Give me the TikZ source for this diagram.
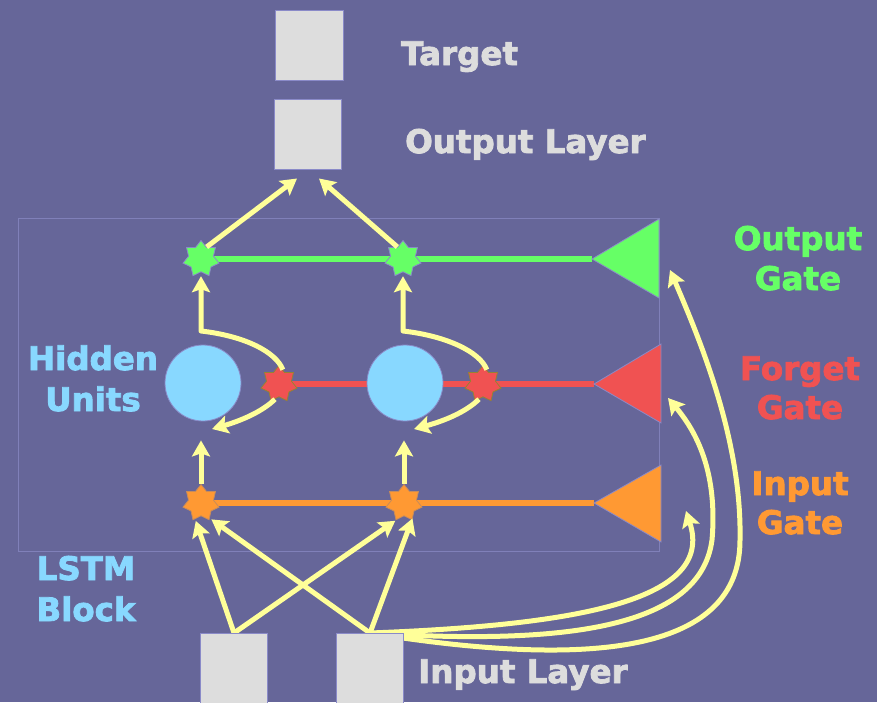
\documentclass[tikz,border=0pt]{standalone}
\usepackage{fontspec}
\newfontfamily\labelfont{DejaVu Sans Bold}[FakeBold=2.5]
\usetikzlibrary{shapes.geometric,arrows.meta,calc}

\definecolor{bg}{RGB}{102,102,153}
\definecolor{boxgray}{RGB}{221,221,221}
\definecolor{edgepurple}{RGB}{138,138,200}
\definecolor{blockedge}{RGB}{128,128,185}
\definecolor{arrowyellow}{RGB}{255,255,153}
\definecolor{gatgreen}{RGB}{102,255,102}
\definecolor{gatred}{RGB}{240,82,82}
\definecolor{gatorange}{RGB}{255,153,51}
\definecolor{cellblue}{RGB}{136,216,255}
\definecolor{redrim}{RGB}{150,130,50}
\definecolor{orangerim}{RGB}{200,140,90}

\pgfdeclarelayer{canvas}
\pgfdeclarelayer{wires}
\pgfsetlayers{canvas,wires,main}

\begin{document}
\begin{tikzpicture}[x=1pt,y=-1pt,
  lbl/.style={font=\fontsize{32.5}{40}\selectfont\labelfont, anchor=base, inner sep=0pt},
  unitbox/.style={draw=edgepurple, line width=1pt, fill=boxgray, minimum width=67pt, minimum height=70pt, inner sep=0pt},
  mult/.style={star, star points=7, star point ratio=1.45, minimum size=37pt, inner sep=0pt, line width=0.8pt},
  cell/.style={circle, fill=cellblue, draw=edgepurple, line width=0.8pt, minimum size=76pt, inner sep=0pt},
  gateline/.style={line width=5.5pt},
  arr/.style={draw=arrowyellow, line width=5pt, line join=round,
    -{Stealth[length=16pt,width=18pt,inset=3pt]}},
]
\useasboundingbox (0,0) rectangle (877,702);
\clip (0,0) rectangle (877,702);
\begin{pgfonlayer}{canvas}
  \fill[bg] (0,0) rectangle (877,702);
  % LSTM block outline
  \draw[blockedge, line width=1pt] (18,218) rectangle (659,551);
\end{pgfonlayer}

% gate tips and arrow targets
\coordinate (gtip) at (592,259);
\coordinate (ftip) at (594,384);
\coordinate (itip) at (594,503);
\coordinate (ogin) at (670,270);
\coordinate (fgin) at (668,398);
\coordinate (igin) at (686,511);

% hidden cells and multiplicative units
\node[cell] (h1) at (203,383) {};
\node[cell] (h2) at (405,383) {};
\node[mult, fill=gatgreen, draw=edgepurple] (gs1) at (201,259) {};
\node[mult, fill=gatgreen, draw=edgepurple] (gs2) at (403,259) {};
\node[mult, fill=gatred, draw=redrim] (fs1) at (279,384) {};
\node[mult, fill=gatred, draw=redrim] (fs2) at (483,384) {};
\node[mult, fill=gatorange, draw=orangerim] (os1) at (201,503) {};
\node[mult, fill=gatorange, draw=orangerim] (os2) at (404,503) {};

% gate lines, behind cells and stars
\begin{pgfonlayer}{wires}
  \draw[gateline, gatgreen] (gs1.center) -- (gtip);
  \draw[gateline, gatred] (fs1.center) -- (ftip);
  \draw[gateline, gatorange] (os1.center) -- (itip);
\end{pgfonlayer}

% gate triangles
\filldraw[fill=gatgreen, draw=edgepurple, line width=0.8pt] (gtip) -- (659,219) -- (659,298) -- cycle;
\filldraw[fill=gatred, draw=edgepurple, line width=0.8pt] (ftip) -- (661,344) -- (661,423) -- cycle;
\filldraw[fill=gatorange, draw=edgepurple, line width=0.8pt] (itip) -- (661,465) -- (661,542) -- cycle;

% output stars to output layer
\node[unitbox, minimum width=68pt] (tgt) at (309,45) {};
\node[unitbox] (outbox) at (307.5,134) {};
\draw[arr] (gs1.65) -- ([shift={(-10.5,9)}]outbox.south);
\draw[arr] (gs2.115) -- ([shift={(11.5,9)}]outbox.south);

% cell state through forget star up to output star
\draw[arr, shorten >=4pt] (fs1.75) .. controls (276,352) and (245,336) .. (201,331) -- (gs1);
\draw[arr, shorten >=4pt] (fs2.75) .. controls (480,352) and (447,336) .. (403,331) -- (gs2);

% recurrent loop back into the cell
\draw[arr] (fs1.255) .. controls (262,412) and (240,421) .. ([shift={(9,46)}]h1.center);
\draw[arr] (fs2.255) .. controls (466,412) and (444,421) .. ([shift={(9,46)}]h2.center);

% input star up into the cell
\draw[arr] (os1.north) -- ([shift={(-2,19)}]h1.south);
\draw[arr] (os2.north) -- ([shift={(-1,19)}]h2.south);

% input layer to input stars
\coordinate (in1top) at (234,633);
\coordinate (in2top) at (370,633);
\draw[arr, shorten >=2pt] (in1top) -- (os1.250);
\draw[arr, shorten >=2pt] (in1top) -- (os2.247);
\draw[arr, shorten >=2pt] (in2top) -- (os1.-60);
\draw[arr, shorten >=2pt] (in2top) -- (os2.-56);

% input layer to the three gates
\draw[arr] (in2top) .. controls (580,625) and (715,600) .. (igin);
\draw[arr] (in2top) .. controls (560,645) and (700,630) .. (712,540)
  .. controls (718,470) and (695,430) .. (fgin);
\draw[arr] (in2top) .. controls (600,670) and (740,650) .. (740,540)
  .. controls (742,440) and (700,340) .. (ogin);

% input boxes, drawn over the arrow starts
\node[unitbox, minimum height=80pt] (in1) at (233.5,673) {};
\node[unitbox, minimum height=80pt] (in2) at (370,673) {};

% labels
\node[lbl, text=boxgray, anchor=base west] (ttgt) at (401,65) {Target};
\node[lbl, text=boxgray, anchor=base west] (tout) at (405,153) {Output Layer};
\node[lbl, text=boxgray, anchor=base west] (tin) at (418,683) {Input Layer};
\node[lbl, text=cellblue] (thid1) at (93,370) {Hidden};
\node[lbl, text=cellblue] (thid2) at (93,411) {Units};
\node[lbl, text=cellblue] (tblk1) at (86,580) {LSTM};
\node[lbl, text=cellblue] (tblk2) at (86,621) {Block};
\node[lbl, text=gatgreen] (tog1) at (798,250) {Output};
\node[lbl, text=gatgreen] (tog2) at (798,290) {Gate};
\node[lbl, text=gatred] (tfg1) at (800,380) {Forget};
\node[lbl, text=gatred] (tfg2) at (800,419) {Gate};
\node[lbl, text=gatorange] (tig1) at (800,495) {Input};
\node[lbl, text=gatorange] (tig2) at (800,534) {Gate};
\end{tikzpicture}
\end{document}
